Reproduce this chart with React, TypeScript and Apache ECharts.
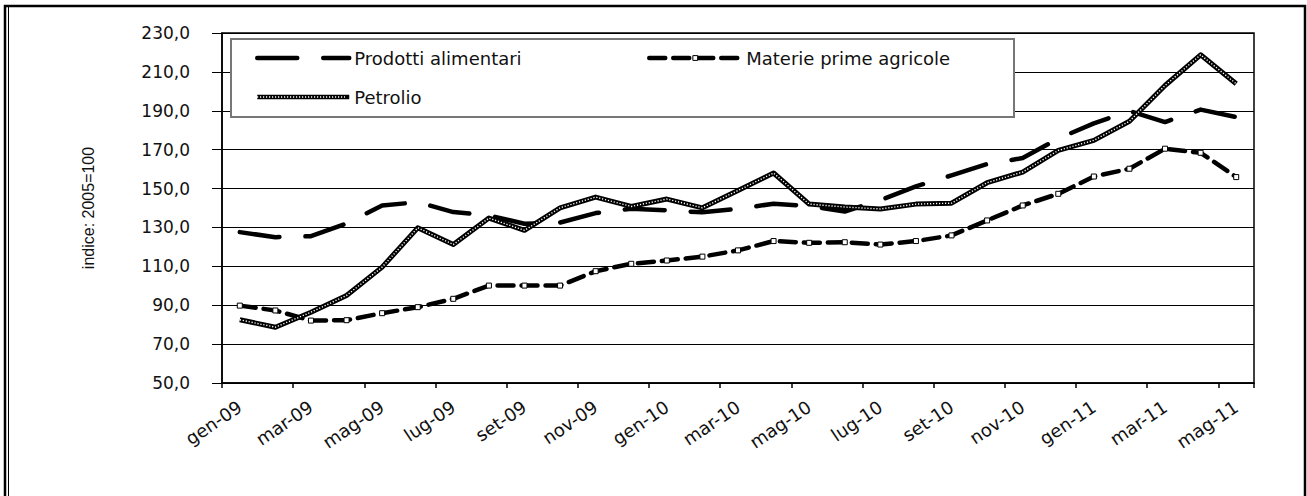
import React, { useEffect, useRef } from "react";
import * as echarts from "echarts";

const categories = [
  "gen-09", "feb-09", "mar-09", "apr-09", "mag-09", "giu-09", "lug-09", "ago-09", "set-09", "ott-09", "nov-09", "dic-09",
  "gen-10", "feb-10", "mar-10", "apr-10", "mag-10", "giu-10", "lug-10", "ago-10", "set-10", "ott-10", "nov-10", "dic-10",
  "gen-11", "feb-11", "mar-11", "apr-11", "mag-11",
];

const prodottiAlimentari = [
  127.6, 125.0, 125.5, 132.0, 141.3, 143.0, 137.9, 136.2, 131.9, 132.5, 137.4, 139.6,
  138.8, 137.8, 139.6, 142.2, 141.0, 138.2, 144.0, 151.1, 156.8, 162.6, 165.7, 175.7,
  183.5, 189.9, 184.2, 190.6, 186.8,
];

const materiePrimeAgricole = [
  89.8, 87.3, 82.1, 82.3, 85.9, 89.0, 93.3, 100.1, 100.1, 100.1, 107.5, 111.3,
  113.0, 115.0, 118.2, 123.0, 122.1, 122.4, 121.2, 123.0, 125.9, 133.6, 141.3, 147.3,
  156.2, 160.2, 170.5, 168.4, 155.9,
];

const petrolio = [
  82.5, 78.7, 86.4, 95.0, 109.6, 129.8, 121.2, 134.8, 128.5, 140.1, 145.6, 140.8,
  144.6, 140.1, 149.0, 158.0, 142.0, 140.5, 139.5, 142.0, 142.5, 153.0, 158.5, 169.6,
  174.8, 184.6, 203.0, 218.8, 203.9,
];

const yMin = 50;
const yMax = 230;
const yStep = 20;
const yAxisTitle = "indice: 2005=100";

export default function App() {
  const ref = useRef<HTMLDivElement>(null);

  useEffect(() => {
    if (!ref.current) return;
    const chart = echarts.init(ref.current, undefined, { renderer: "svg" });
    const sansWide = "'DejaVu Sans', sans-serif";
    const legendText = { fontFamily: sansWide, fontSize: 18, color: "#111", lineHeight: 20 };
    const legendBase = {
      padding: 0,
      itemWidth: 92,
      itemHeight: 6,
      textStyle: legendText,
      z: 5,
    };

    chart.setOption({
      animation: false,
      backgroundColor: "#fff",
      grid: {
        left: 222,
        right: 53,
        top: 33,
        bottom: 113,
        show: true,
        borderColor: "#000",
        borderWidth: 1.5,
        backgroundColor: "transparent",
      },
      graphic: [
        {
          type: "rect",
          shape: { x: 5, y: 6, width: 1300, height: 520 },
          style: { fill: "none", stroke: "#000", lineWidth: 2.5 },
          z: 10,
          silent: true,
        },
        {
          type: "line",
          shape: { x1: 8.5, y1: 7, x2: 8.5, y2: 496 },
          style: { stroke: "#000", lineWidth: 1 },
          z: 10,
          silent: true,
        },
        {
          type: "rect",
          shape: { x: 231, y: 39, width: 783, height: 78 },
          style: { fill: "#fff", stroke: "#777", lineWidth: 2 },
          z: 3,
          silent: true,
        },
        {
          type: "line",
          shape: { x1: 257, y1: 97, x2: 345, y2: 97 },
          style: { stroke: "#fff", lineWidth: 1.4, lineDash: [1.2, 1.8] },
          z: 20,
          silent: true,
        },
      ],
      legend: [
        {
          ...legendBase,
          data: ["Prodotti alimentari"],
          left: 255,
          top: 48,
          itemStyle: { opacity: 0, borderWidth: 0 },
          lineStyle: { color: "#000", width: 4.5, type: [40, 26], cap: "round" },
        },
        {
          ...legendBase,
          data: ["Materie prime agricole"],
          left: 647,
          top: 48,
          itemStyle: { color: "#fff", borderColor: "#000", borderWidth: 1 },
          lineStyle: { color: "#000", width: 4.5, type: [16, 8], cap: "round" },
        },
        {
          ...legendBase,
          data: ["Petrolio"],
          left: 255,
          top: 87,
          itemStyle: { opacity: 0, borderWidth: 0 },
          lineStyle: { color: "#000", width: 4.5, type: "solid" },
        },
      ],
      xAxis: {
        type: "category",
        data: categories,
        boundaryGap: true,
        axisLine: { lineStyle: { color: "#000", width: 1.5 } },
        axisTick: { show: true, interval: 1, length: 5, lineStyle: { color: "#000", width: 1.5 } },
        axisLabel: {
          interval: 1,
          rotate: 34,
          margin: 22,
          fontFamily: sansWide,
          fontSize: 18,
          color: "#111",
        },
        splitLine: { show: false },
      },
      yAxis: {
        type: "value",
        min: yMin,
        max: yMax,
        interval: yStep,
        name: yAxisTitle,
        nameLocation: "middle",
        nameRotate: 90,
        nameGap: 126,
        nameTextStyle: { fontFamily: "'Liberation Sans', Arial, sans-serif", fontSize: 16, color: "#111" },
        axisLine: { show: true, lineStyle: { color: "#000", width: 1.5 } },
        axisTick: { show: true, length: 10, lineStyle: { color: "#000", width: 1 } },
        axisLabel: {
          margin: 32,
          fontFamily: sansWide,
          fontSize: 17,
          color: "#111",
          formatter: (v: number) => v.toFixed(1).replace(".", ","),
        },
        splitLine: { show: true, lineStyle: { color: "#000", width: 1 } },
      },
      series: [
        {
          name: "Prodotti alimentari",
          type: "line",
          data: prodottiAlimentari,
          symbol: "none",
          lineStyle: { color: "#000", width: 4.5, type: [40, 26], cap: "round", join: "round" },
          itemStyle: { color: "#000" },
          z: 3,
        },
        {
          name: "Materie prime agricole",
          type: "line",
          data: materiePrimeAgricole,
          symbol: "rect",
          symbolSize: 5,
          showSymbol: true,
          lineStyle: { color: "#000", width: 4.5, type: [16, 8], cap: "round", join: "round" },
          itemStyle: { color: "#fff", borderColor: "#000", borderWidth: 1 },
          z: 3,
        },
        {
          name: "Petrolio",
          type: "line",
          data: petrolio,
          symbol: "none",
          lineStyle: { color: "#000", width: 5, join: "round" },
          itemStyle: { color: "#000" },
          z: 3,
        },
        {
          name: "Petrolio texture",
          type: "line",
          data: petrolio,
          symbol: "none",
          lineStyle: { color: "#fff", width: 1.4, type: [1.2, 1.8], join: "round" },
          itemStyle: { color: "#fff" },
          z: 4,
          silent: true,
        },
      ],
    });

    return () => chart.dispose();
  }, []);

  return (
    <div
      ref={ref}
      style={{ position: "absolute", left: 0, top: 0, width: 1307, height: 496 }}
    />
  );
}
